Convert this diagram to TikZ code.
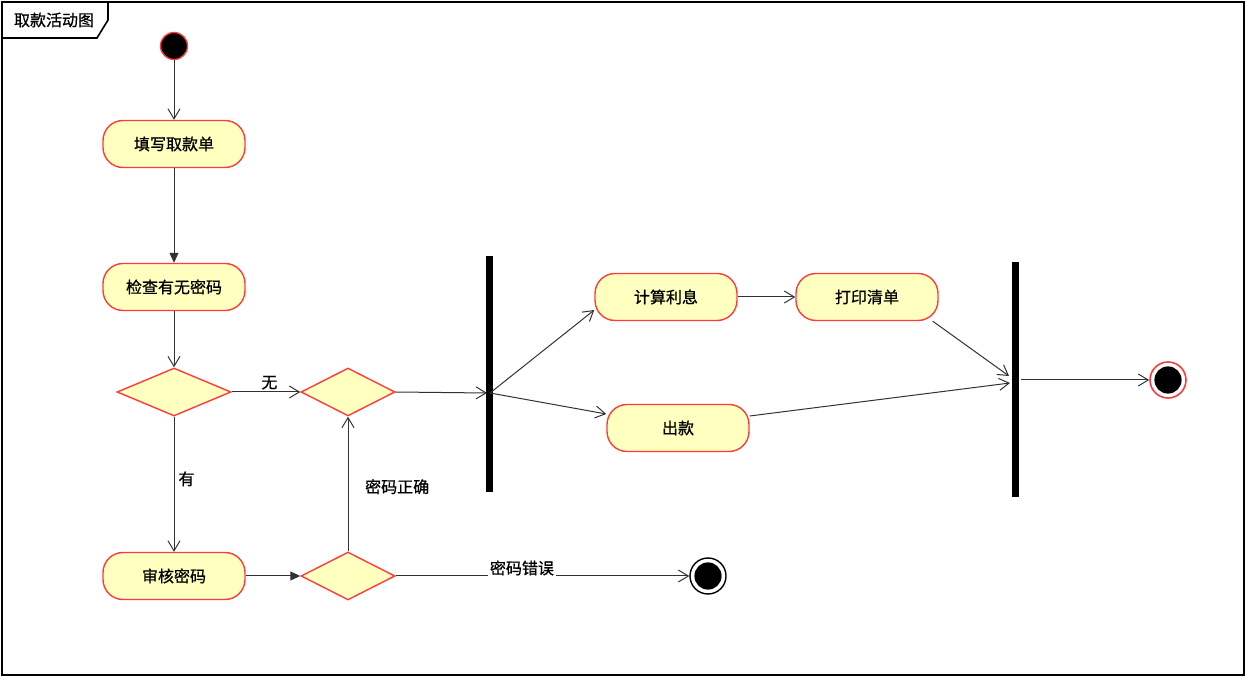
\documentclass[tikz,border=0pt]{standalone}
\usepackage{fontspec}
\newfontfamily\cjk[FakeBold=0.8]{Noto Sans CJK SC}
\usepackage{tikz}
\usetikzlibrary{shapes.geometric,arrows.meta,calc}
\definecolor{actfill}{RGB}{255,255,192}
\definecolor{actline}{RGB}{255,60,60}
\definecolor{flow}{RGB}{50,50,50}

\begin{document}
\begin{tikzpicture}[x=0.5pt,y=-0.5pt,font=\cjk\fontsize{8}{10}\selectfont,
  >={Straight Barb[length=5pt,width=6pt]},
  act/.style={draw=actline,fill=actfill,rounded corners=10pt,minimum width=71pt,minimum height=23.5pt,line width=0.7pt},
  dec/.style={diamond,draw=actline,fill=actfill,inner sep=0pt,minimum width=47pt,minimum height=24pt,line width=0.7pt},
  bar/.style={fill=black,inner sep=0pt,minimum width=3.5pt},
  flw/.style={draw=flow,line width=0.5pt},
  tri/.style={-{Triangle[length=5pt,width=4.5pt]}},
  lbl/.style={inner sep=1pt}]
  \useasboundingbox (0,0) rectangle (1246,688);
  % frame and title tab
  \draw[line width=1pt] (2,2) rectangle (1244,675);
  \draw[line width=0.8pt] (2,38) -- (97,38) -- (108,20) -- (108,2);
  \node (title) at (54,20) {取款活动图};
  % activities
  \node[circle,fill=black,draw=actline,line width=0.7pt,minimum size=13.5pt,inner sep=0pt] (start) at (174,46) {};
  \node[act] (fill) at (174,144) {填写取款单};
  \node[act] (check) at (174,287) {检查有无密码};
  \node[dec,minimum width=57pt] (hasPwd) at (174,392) {};
  \node[dec] (merge) at (348,392) {};
  \node[act] (verify) at (174,576) {审核密码};
  \node[dec] (pwdOk) at (348,576) {};
  \node[circle,draw=black,fill=white,line width=0.7pt,minimum size=18pt,inner sep=0pt] (stop) at (708,576) {};
  \fill (stop.center) circle (6.8pt);
  \node[bar,minimum height=118pt] (fork) at (489,374) {};
  \node[act] (calc) at (666,297) {计算利息};
  \node[act] (print) at (867,297) {打印清单};
  \node[act] (pay) at (678,428) {出款};
  \node[bar,minimum height=117.5pt] (join) at (1015,380) {};
  \node[circle,draw=actline,fill=white,line width=0.8pt,minimum size=18pt,inner sep=0pt] (end) at (1168,380) {};
  \fill (end.center) circle (6.8pt);
  \coordinate (forkIn) at (487,393);
  \coordinate (forkOut) at (490,393);
  \coordinate (joinIn1) at (1009,376);
  \coordinate (joinIn2) at (1010,383);
  \coordinate (joinOut) at (1021,380);
  % flows
  \draw[flw,->] (start) -- (fill);
  \draw[flw,tri] (fill) -- (check);
  \draw[flw,->] (check) -- (hasPwd);
  \draw[flw,->] (hasPwd) -- node[above,lbl,pos=0.55]{无} (merge);
  \draw[flw,->] (hasPwd) -- node[right,inner sep=2pt,pos=0.46]{有} (verify);
  \draw[flw,tri] (verify) -- (pwdOk);
  \draw[flw,->] (pwdOk) -- node[right=5pt,pos=0.48]{密码正确} (merge);
  \draw[flw,->] (pwdOk) -- node[fill=white,lbl,pos=0.43,yshift=4pt]{密码错误} (stop);
  \draw[flw,->] (merge.east) -- (forkIn);
  \draw[flw,->] (forkOut) -- ([yshift=-6.5pt]calc.west);
  \draw[flw,->] (forkOut) -- ([yshift=7pt]pay.west);
  \draw[flw,->] (calc) -- (print);
  \draw[flw,->] ([xshift=-3pt]print.south east) -- (joinIn1);
  \draw[flw,->] ([yshift=6pt]pay.east) -- (joinIn2);
  \draw[flw,->] (joinOut) -- (end);
\end{tikzpicture}
\end{document}
